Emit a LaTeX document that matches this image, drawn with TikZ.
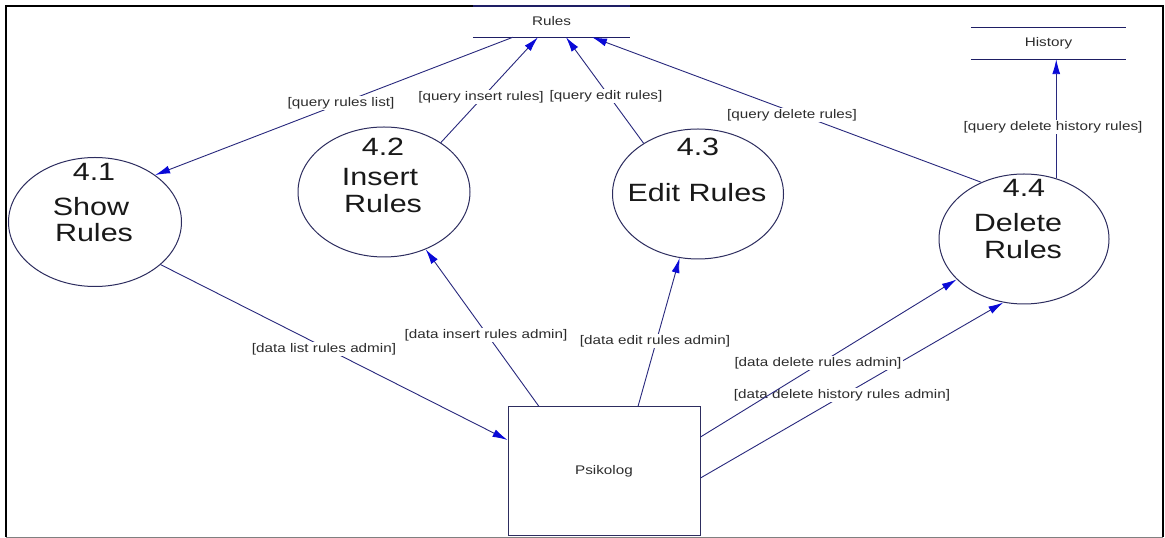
\documentclass[tikz,border=0pt]{standalone}
\usepackage{fontspec}
\setmainfont{Liberation Sans}
\usepackage{graphicx}
\usetikzlibrary{shapes.geometric,arrows.meta}

\definecolor{flowcol}{RGB}{40,40,125}
\definecolor{tipcol}{RGB}{10,10,215}
\definecolor{circcol}{RGB}{45,45,95}
\definecolor{txtcol}{RGB}{25,25,25}
\definecolor{lblcol}{RGB}{45,45,45}
\definecolor{storecol}{RGB}{30,30,100}

% text in this diagram is set slightly wide
\newcommand{\wtxt}[1]{\scalebox{1.22}[1]{#1}}

\tikzset{
  proc/.style={ellipse, draw=circcol, line width=1pt, inner sep=0pt},
  bigtxt/.style={font=\fontsize{25}{28}\selectfont, text=txtcol, anchor=base, inner sep=0pt},
  lbl/.style={font=\fontsize{12.5}{14}\selectfont, fill=white, text=lblcol, inner sep=1.5pt},
  flow/.style={draw=flowcol, line width=0.9pt, -{Latex[length=15pt,width=8pt,color=tipcol]}},
  store/.style={minimum height=31pt, inner sep=0pt, font=\fontsize{12.5}{14}\selectfont, text=lblcol},
  storeline/.style={draw=storecol, line width=1.2pt},
  entity/.style={draw=circcol, line width=1pt, inner sep=0pt, font=\fontsize{12.5}{14}\selectfont, text=lblcol}
}

\begin{document}
\begin{tikzpicture}[x=1pt,y=1pt]
\useasboundingbox (0,0) rectangle (1165,538);
\fill[white] (0,0) rectangle (1165,538);

% outer frame
\draw[black, line width=2pt] (6,0.8) -- (6,532) -- (1163,532) -- (1163,0.8);
\draw[gray, line width=1.2pt] (6,0.8) -- (1163,0.8);

% data stores
\node[store, minimum width=157pt] (rules) at (551.5,516.5) {\wtxt{Rules}};
\draw[storeline, line width=2.4pt] (rules.north west) -- (rules.north east);
\draw[storeline] (rules.south west) -- (rules.south east);

\node[store, minimum width=155pt] (hist) at (1048.5,494.5) {\wtxt{History}};
\draw[storeline] (hist.north west) -- (hist.north east);
\draw[storeline] (hist.south west) -- (hist.south east);

% processes
\node[proc, minimum width=173pt, minimum height=129pt] (p41) at (95,316) {};
\node[proc, minimum width=172pt, minimum height=130pt] (p42) at (384,346) {};
\node[proc, minimum width=171pt, minimum height=130pt] (p43) at (698,344) {};
\node[proc, minimum width=170pt, minimum height=130pt] (p44) at (1024,299) {};

\node[bigtxt] (n41) at (94,357) {\wtxt{4.1}};
\node[bigtxt] (s41a) at (91,322) {\wtxt{Show}};
\node[bigtxt] (s41b) at (94,296) {\wtxt{Rules}};

\node[bigtxt] (n42) at (383,382) {\wtxt{4.2}};
\node[bigtxt] (s42a) at (380,352) {\wtxt{Insert}};
\node[bigtxt] (s42b) at (383,325) {\wtxt{Rules}};

\node[bigtxt] (n43) at (698,382) {\wtxt{4.3}};
\node[bigtxt] (s43) at (697,336) {\wtxt{Edit Rules}};

\node[bigtxt] (n44) at (1024,341) {\wtxt{4.4}};
\node[bigtxt] (s44a) at (1018,306) {\wtxt{Delete}};
\node[bigtxt] (s44b) at (1023,279) {\wtxt{Rules}};

% external entity
\node[entity, minimum width=192pt, minimum height=129pt] (psy) at (604,66.5) {\wtxt{Psikolog}};

% flows to and from the Rules store
\draw[flow] ([xshift=-38.5pt]rules.south) -- (p41.38.7);
\node[lbl] (l1) at (341,435) {\wtxt{[query rules list]}};

\draw[flow] (p42.41.8) -- ([xshift=-13.5pt]rules.south);
\node[lbl] (l2) at (481,441) {\wtxt{[query insert rules]}};

\draw[flow] (p43.137.1) -- ([xshift=14.5pt]rules.south);
\node[lbl] (l3) at (606,442) {\wtxt{[query edit rules]}};

\draw[flow] (p44.127.3) -- ([xshift=40.5pt]rules.south);
\node[lbl] (l4) at (792,423) {\wtxt{[query delete rules]}};

% flow to the History store
\draw[flow] (p44.62.7) -- (p44.62.7 |- hist.south);
\node[lbl] (l5) at (1053,411) {\wtxt{[query delete history rules]}};

% flows between Psikolog and the processes
\draw[flow] (p41.-33.9) -- ([yshift=31.5pt]psy.west);
\node[lbl] (l6) at (324,189) {\wtxt{[data list rules admin]}};

\draw[flow] ([xshift=-65pt]psy.north) -- (p42.-54.4);
\node[lbl] (l7) at (486,203) {\wtxt{[data insert rules admin]}};

\draw[flow] ([xshift=34pt]psy.north) -- (p43.-106.5);
\node[lbl] (l8) at (655,197) {\wtxt{[data edit rules admin]}};

\draw[flow] ([yshift=-6.5pt]psy.east) -- (p44.252.4);
\node[lbl] (l10) at (842,143) {\wtxt{[data delete history rules admin]}};

\draw[flow] ([yshift=34.5pt]psy.east) -- (p44.211.8);
\node[lbl] (l9) at (818,175) {\wtxt{[data delete rules admin]}};
\end{tikzpicture}
\end{document}
